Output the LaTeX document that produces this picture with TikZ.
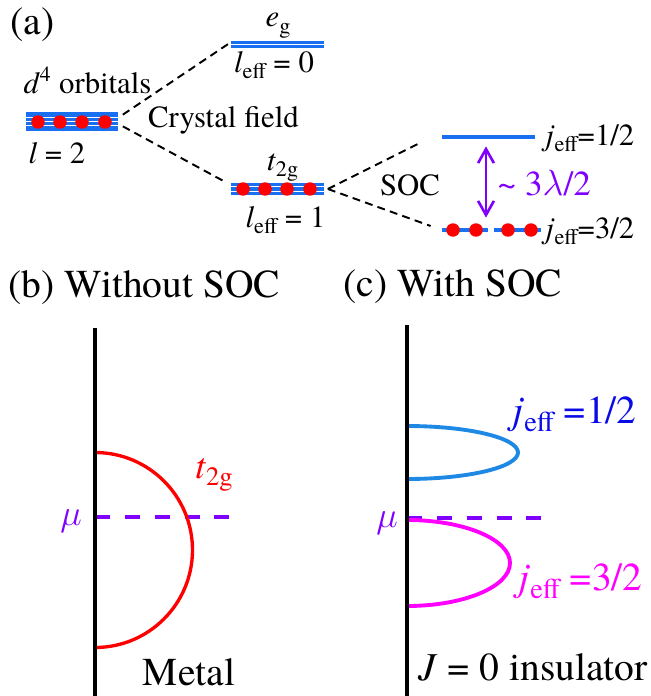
\documentclass[tikz,border=0pt]{standalone}
\usepackage{fontspec}
\setmainfont{texgyretermes}[Extension=.otf, UprightFont=*-regular, ItalicFont=*-italic, BoldFont=*-bold, BoldItalicFont=*-bolditalic]
\usetikzlibrary{arrows.meta,calc,positioning}
\definecolor{lvblue}{RGB}{24,112,240}
\definecolor{dosblue}{RGB}{30,136,229}
\definecolor{lblblue}{RGB}{10,10,230}
\definecolor{socpurple}{RGB}{128,0,255}
\definecolor{dosmag}{RGB}{255,0,255}
\newcommand{\idx}[1]{\raisebox{-0.45ex}{\scalebox{0.72}{#1}}}

\tikzset{
  lbl/.style={font=\fontsize{17.5}{20}\selectfont, inner sep=0pt},
  big/.style={font=\fontsize{22.5}{26}\selectfont, inner sep=0pt},
  level/.style={fill=lvblue, inner sep=0pt, minimum width=1.86cm},
  stripes/.style={path picture={\foreach \s in {#1} \draw[white,line width=0.6pt] ([yshift=\s pt]path picture bounding box.west) -- ([yshift=\s pt]path picture bounding box.east);}},
  electron/.style={circle, fill=red, inner sep=0pt, minimum size=0.27cm},
  cfline/.style={dash pattern=on 4.5pt off 3pt, line width=1.1pt},
  axisline/.style={line width=2.8pt},
  mudash/.style={socpurple, line width=2.2pt, dash pattern=on 8.5pt off 8.5pt},
}

\begin{document}
\begin{tikzpicture}[x=0.02cm, y=-0.02cm]
  \useasboundingbox (0,0) rectangle (650,696);

  % (a) level scheme
  \node[big, anchor=base west] (pa) at (10,35) {(a)};

  % d4 level and its electrons
  \node[level, stripes={2.5,0,-2.5}, minimum height=0.38cm] (d4) at (72,121.5) {};
  \foreach \x in {38,60,82,105} \node[electron] (d4e\x) at (\x,122) {};
  \node[lbl, anchor=base] (d4lbl) at (87.5,93) {\textit{d}\textsuperscript{4} orbitals};
  \node[lbl, anchor=base] (l2lbl) at (57,163) {\textit{l} = 2};

  % crystal field levels
  \node[level, stripes={0}, minimum height=0.14cm] (eg) at (277.5,44.5) {};
  \node[lbl, anchor=base] (eglbl) at (278,27) {\textit{e}\idx{g}};
  \node[lbl, anchor=base] (l0lbl) at (274,72) {\textit{l}\idx{eff} = 0};
  \node[level, stripes={1.5,-1.5}, minimum height=0.24cm] (t2g) at (277.5,189) {};
  \foreach \x in {243,265,287,310} \node[electron] (t2ge\x) at (\x,189) {};
  \node[lbl, anchor=base] (t2glbl) at (282.5,170) {\textit{t}\idx{2g}};
  \node[lbl, anchor=base] (l1lbl) at (285.5,227) {\textit{l}\idx{eff} = 1};
  \node[lbl, anchor=base] (cf) at (223.5,128) {Crystal field};

  \draw[cfline] ([shift={(4,3)}]d4.north east) -- ([shift={(-1,-1.5)}]eg.west);
  \draw[cfline] ([shift={(4,-5)}]d4.south east) -- ([shift={(-6,-1)}]t2g.north west);

  % SOC levels
  \node[level, minimum height=0.08cm] (j12) at (488.5,137) {};
  \node[level, minimum width=0.92cm, minimum height=0.08cm] (j32a) at (465,230) {};
  \node[level, minimum width=0.94cm, minimum height=0.08cm] (j32b) at (517.5,230) {};
  \foreach \x in {453,476,508,531} \node[electron] (j32e\x) at (\x,230) {};
  \node[lbl, anchor=base west] (j12lbl) at (545,145) {\textit{j}\idx{eff}=1/2};
  \node[lbl, anchor=base west] (j32lbl) at (545,238) {\textit{j}\idx{eff}=3/2};
  \node[lbl, anchor=base] (soc) at (410,195) {SOC};

  \draw[cfline] ([xshift=2pt]t2g.east) -- ([shift={(-20,5)}]j12.west);
  \draw[cfline] ([xshift=2pt]t2g.east) -- ([shift={(-11,-4)}]j32a.west);

  % SOC gap
  \draw[socpurple, line width=1.5pt, {Straight Barb[length=8pt,width=9pt]}-{Straight Barb[length=8pt,width=9pt]}] ([shift={(-2.5,7)}]j12.south) -- ([shift={(21,-10)}]j32a.north);
  \node[font=\fontsize{20}{24}\selectfont, text=socpurple, inner sep=0pt, anchor=base west] (gap) at (497,195) {\textasciitilde\ 3$\lambda$/2};

  % (b) without SOC
  \node[big, anchor=base west] (pb) at (8,297) {(b) Without SOC};
  \coordinate (axbtop) at (95,328);
  \coordinate (axbbot) at (95,696);
  \coordinate (mubend) at (235,517);
  \draw[mudash] (axbtop |- mubend) -- (mubend);
  \draw[red, line width=1.9pt] (95,452.5) arc[start angle=-90, end angle=90, radius=97.5];
  \draw[axisline] (axbtop) -- (axbbot);
  \node[font=\fontsize{22}{26}\selectfont, text=socpurple, anchor=base, inner sep=0pt] (mub) at (71,525) {$\mu$};
  \node[font=\fontsize{21}{25}\selectfont, text=red, anchor=base, inner sep=0pt] (t2gdos) at (214,478) {\textit{t}\idx{2g}};
  \node[big, anchor=base] (metal) at (189,685) {Metal};

  % (c) with SOC
  \node[big, anchor=base west] (pc) at (343,296) {(c) With SOC};
  \coordinate (axctop) at (407,325);
  \coordinate (axcbot) at (407,696);
  \coordinate (mucend) at (543,518);
  \draw[mudash] (axctop |- mucend) -- (mucend);
  \draw[dosblue, line width=2.2pt] (407,426) arc[start angle=-90, end angle=90, x radius=111, y radius=26.5];
  \draw[dosmag, line width=2.2pt] (407,520) arc[start angle=-90, end angle=90, x radius=103, y radius=43];
  \draw[axisline] (axctop) -- (axcbot);
  \node[font=\fontsize{22}{26}\selectfont, text=socpurple, anchor=base, inner sep=0pt] (muc) at (387,527) {$\mu$};
  \node[big, text=lblblue, anchor=base west] (j12dos) at (512,423) {\textit{j}\idx{eff} =1/2};
  \node[big, text=dosmag, anchor=base west] (j32dos) at (518,590) {\textit{j}\idx{eff} =3/2};
  \node[big, anchor=base west] (ins) at (418,680) {\textit{J} = 0 insulator};
\end{tikzpicture}
\end{document}
